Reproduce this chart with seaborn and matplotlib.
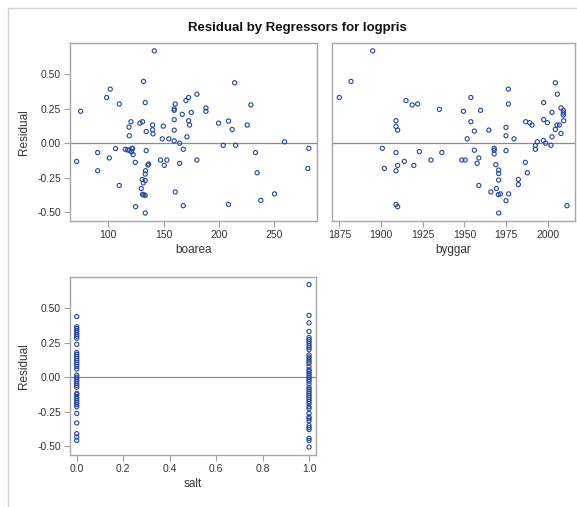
import matplotlib
matplotlib.use("Agg")
import matplotlib.pyplot as plt
import seaborn as sns
import pandas as pd
from matplotlib.lines import Line2D
from matplotlib.ticker import FormatStrFormatter

# ---- data ----
boarea = [141.6, 75.0, 71.4, 98.5, 101.8, 109.9, 90.4, 90.4, 100.9, 106.6, 109.9, 115.4, 119.3,
          120.8, 122.0, 117.5, 121.0, 122.5, 121.5, 118.7, 120.5, 119.0, 124.4, 124.7, 128.6, 131.0,
          131.9, 133.4, 134.3, 134.3, 135.8, 136.4, 133.7, 133.4, 130.7, 133.4, 131.6, 129.8, 131.0,
          132.0, 133.4, 133.4, 140.1, 140.1, 140.4, 149.7, 148.8, 154.8, 147.3, 153.0, 150.6, 160.5,
          159.6, 159.6, 159.6, 159.6, 159.6, 164.5, 167.8, 164.5, 160.5, 167.8, 166.9, 170.2, 172.6,
          175.0, 172.6, 173.5, 171.1, 180.1, 180.1, 188.3, 188.3, 199.7, 203.9, 208.7, 212.0, 208.7,
          214.2, 215.1, 225.6, 228.9, 233.1, 234.6, 237.9, 250.3, 259.3, 281.3, 280.4]
resid_boarea = [0.671, 0.232, -0.132, 0.332, 0.393, 0.285, -0.068, -0.200, -0.107, -0.039, -0.307,
                -0.044, -0.051, -0.059, -0.039, -0.049, -0.063, -0.083, -0.037, 0.117, 0.156, 0.054,
                -0.139, -0.461, 0.146, 0.156, 0.449, 0.295, 0.085, -0.054, -0.159, -0.151, -0.200,
                -0.224, -0.263, -0.271, -0.288, -0.329, -0.371, -0.376, -0.378, -0.507, 0.132, 0.098,
                0.068, 0.124, 0.032, 0.032, -0.122, -0.122, -0.161, 0.285, 0.249, 0.239, 0.171, 0.095,
                0.017, 0.000, -0.044, -0.146, -0.354, -0.454, 0.210, 0.310, 0.332, 0.224, 0.163,
                0.132, 0.046, 0.356, -0.122, 0.256, 0.232, 0.146, -0.015, 0.161, 0.100, -0.444,
                0.439, -0.015, 0.132, 0.278, -0.068, -0.215, -0.415, -0.368, 0.010, -0.037, -0.183]

byggar = [1875.0, 1882.0, 1895.0, 1900.8, 1902.0, 1909.0, 1909.0, 1910.0, 1909.0, 1910.0, 1909.0,
          1909.0, 1910.0, 1914.0, 1915.0, 1918.7, 1922.0, 1919.7, 1923.0, 1930.0, 1935.0, 1936.5,
          1949.5, 1948.5, 1950.5, 1951.7, 1953.9, 1953.9, 1956.0, 1956.0, 1958.7, 1957.7, 1958.7,
          1959.7, 1964.7, 1965.9, 1967.9, 1967.9, 1967.9, 1968.9, 1970.6, 1970.6, 1970.6, 1969.2,
          1970.4, 1971.6, 1970.6, 1975.0, 1975.0, 1975.0, 1975.0, 1976.4, 1976.4, 1976.6, 1979.8,
          1982.4, 1982.4, 1986.6, 1987.8, 1986.8, 1989.2, 1990.6, 1992.6, 1992.6, 1993.8, 1997.6,
          1997.6, 1997.4, 1998.8, 1999.8, 2002.0, 2002.6, 2002.6, 2004.6, 2005.8, 2004.6, 2005.6,
          2007.0, 2008.0, 2009.4, 2009.4, 2009.4, 2009.6, 2008.0, 2011.6]
resid_byggar = [0.332, 0.449, 0.671, -0.037, -0.183, 0.163, 0.122, 0.095, -0.068, -0.161, -0.200,
                -0.444, -0.461, -0.132, 0.310, 0.278, 0.285, -0.161, -0.061, -0.122, 0.246, -0.068,
                0.232, -0.122, -0.122, 0.032, 0.332, 0.156, 0.088, -0.051, -0.107, -0.146, -0.307,
                0.239, 0.095, -0.354, -0.037, -0.051, -0.078, -0.156, -0.195, -0.220, -0.268,
                -0.329, -0.373, -0.368, -0.507, 0.115, 0.054, -0.054, -0.417, 0.393, 0.285, -0.368,
                0.032, -0.263, -0.300, -0.139, -0.215, 0.156, 0.149, 0.132, -0.017, -0.044, 0.010,
                0.295, 0.171, 0.020, 0.000, 0.149, -0.015, 0.224, 0.046, 0.439, 0.356, 0.100, 0.132,
                0.132, 0.256, 0.239, 0.220, 0.205, 0.163, 0.071, -0.454]

resid_salt0 = [0.441, 0.366, 0.354, 0.341, 0.327, 0.312, 0.298, 0.283, 0.239, 0.180, 0.166, 0.151,
               0.137, 0.122, 0.107, 0.093, 0.078, 0.059, 0.015, 0.000, -0.015, -0.029, -0.044,
               -0.059, -0.073, -0.117, -0.127, -0.141, -0.156, -0.171, -0.185, -0.200, -0.215,
               -0.263, -0.332, -0.410, -0.434, -0.459]
resid_salt1 = [0.673, 0.449, 0.395, 0.332, 0.288, 0.273, 0.259, 0.244, 0.229, 0.215, 0.200, 0.161,
               0.146, 0.132, 0.117, 0.102, 0.078, 0.054, 0.044, 0.029, 0.015, 0.000, -0.015,
               -0.029, -0.049, -0.073, -0.088, -0.102, -0.117, -0.132, -0.146, -0.161, -0.176,
               -0.190, -0.215, -0.229, -0.263, -0.288, -0.302, -0.317, -0.351, -0.366, -0.380,
               -0.444, -0.459, -0.507]

title = "Residual by Regressors for logpris"
y_ticks = [-0.50, -0.25, 0.00, 0.25, 0.50]
boarea_ticks = [100, 150, 200, 250]
byggar_ticks = [1875, 1900, 1925, 1950, 1975, 2000]
salt_ticks = [0.0, 0.2, 0.4, 0.6, 0.8, 1.0]

df1 = pd.DataFrame({"boarea": boarea, "Residual": resid_boarea})
df2 = pd.DataFrame({"byggar": byggar, "Residual": resid_byggar})
df3 = pd.DataFrame({"salt": [0.0] * len(resid_salt0) + [1.0] * len(resid_salt1),
                    "Residual": resid_salt0 + resid_salt1})

# ---- style ----
sns.set_style("white")
plt.rcParams['font.family'] = ['Liberation Sans', 'DejaVu Sans']

W, H = 577, 507
fig = plt.figure(figsize=(W / 100, H / 100), dpi=100)
# outer frame: only top and left edges visible
fig.add_artist(Line2D([7.5 / W, 1.0], [1 - 7.5 / H, 1 - 7.5 / H], transform=fig.transFigure,
                      color='#d3d3d3', linewidth=1.0))
fig.add_artist(Line2D([7.5 / W, 7.5 / W], [0.0, 1 - 7.5 / H], transform=fig.transFigure,
                      color='#d3d3d3', linewidth=1.0))
fig.text(297 / W, 1 - 28 / H, title, ha='center', va='center', fontsize=9.5, fontweight='bold',
         color='#111111')


def px_axes(x0, y0, x1, y1):
    return fig.add_axes([x0 / W, 1 - y1 / H, (x1 - x0) / W, (y1 - y0) / H])


mcol = '#2445a0'
spine_col = '#a8a8a8'


def style(ax, xl, xticks, xlim, fmt, ylab=True):
    sns.scatterplot(data=xl[0], x=xl[1], y="Residual", ax=ax, marker='o', s=9,
                    facecolor='none', edgecolor=mcol, linewidth=0.8)
    ax.axhline(0, color='#8c8c8c', linewidth=0.9, zorder=0)
    ax.set_xlim(*xlim)
    ax.set_ylim(-0.565, 0.728)
    ax.set_xticks(xticks)
    ax.xaxis.set_major_formatter(FormatStrFormatter(fmt))
    for s in ax.spines.values():
        s.set_color(spine_col)
        s.set_linewidth(1.0)
    ax.tick_params(axis='both', colors='#a0a0a0', labelcolor='#333333', labelsize=7.5,
                   length=4, width=0.8, direction='out', bottom=True, left=ylab, pad=2.5)
    ax.set_xlabel(xl[1], fontsize=8.5, color='#333333', labelpad=3)
    ax.set_yticks(y_ticks)
    if ylab:
        ax.yaxis.set_major_formatter(FormatStrFormatter('%.2f'))
        ax.set_ylabel("Residual", fontsize=8.5, color='#333333', labelpad=5)
    else:
        ax.set_yticklabels([])
        ax.set_ylabel("")


ax1 = px_axes(70, 43, 317, 221)
style(ax1, (df1, "boarea"), boarea_ticks, (65.4, 288.7), '%d')
ax2 = px_axes(332, 43, 575, 221)
style(ax2, (df2, "byggar"), byggar_ticks, (1870.6, 2016.4), '%d', ylab=False)
ax3 = px_axes(70, 277, 316, 455)
style(ax3, (df3, "salt"), salt_ticks, (-0.029, 1.030), '%.1f')

fig.savefig("out.png", dpi=100)
